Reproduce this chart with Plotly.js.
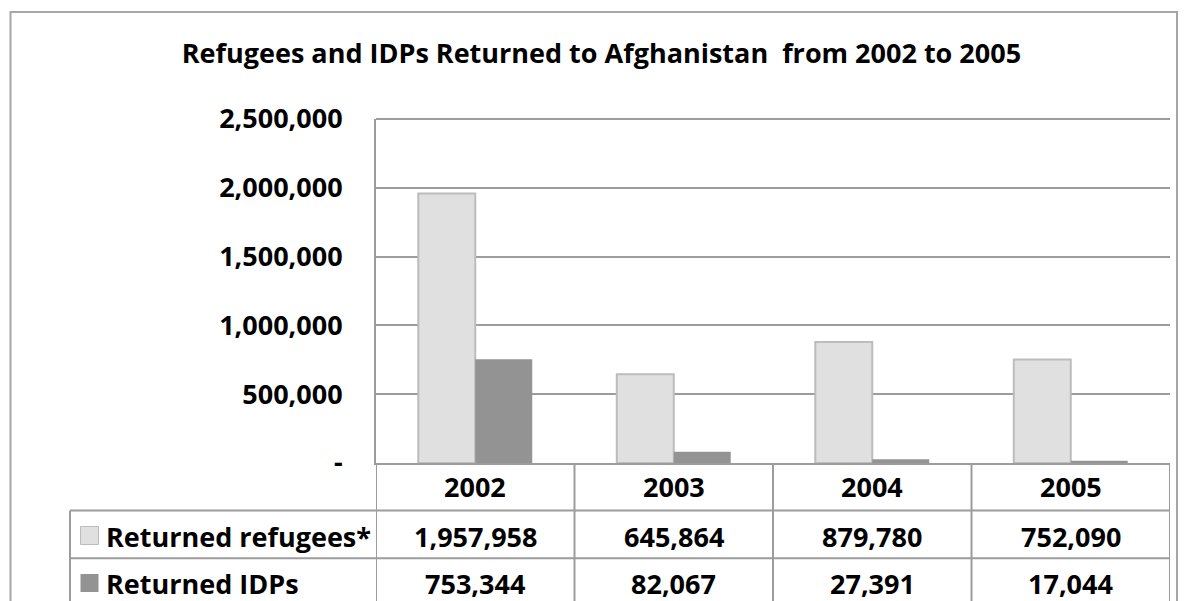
<!DOCTYPE html>
<html>
<head>
<meta charset="utf-8">
<script src="https://cdn.plot.ly/plotly-3.0.1.min.js"></script>
<style>html,body{margin:0;padding:0;background:#fff;}#chart{width:1187px;height:601px;}</style>
</head>
<body>
<div id="chart"></div>
<script>
// ---- data ----
const years = ['2002', '2003', '2004', '2005'];
const refugees = [1957958, 645864, 879780, 752090];
const idps = [753344, 82067, 27391, 17044];
const seriesNames = ['Returned refugees*', 'Returned IDPs'];
const yTickVals = [0, 500000, 1000000, 1500000, 2000000, 2500000];
const yTickText = ['-', '500,000', '1,000,000', '1,500,000', '2,000,000', '2,500,000'];
const chartTitle = 'Refugees and IDPs Returned to Afghanistan  from 2002 to 2005';

// ---- style ----
const W = 1187, H = 601;
const M = {l: 376, r: 17, t: 119, b: 138};
const PW = W - M.l - M.r, PH = H - M.t - M.b;
const FONT = '"Open Sans", Lato, sans-serif';
const GRID = '#9c9c9c';
const colors = ['#e0e0e0', '#939393'];
const lineColors = ['#bcbcbc', '#939393'];
const fsz = 27;
const yMax = yTickVals[yTickVals.length - 1];

// pixel -> paper helpers (layout decoration only)
const px = p => (p - M.l) / PW;
const py = p => (H - M.b - p) / PH;

const traces = [refugees, idps].map((vals, i) => ({
  type: 'bar',
  name: seriesNames[i],
  x: years,
  y: vals,
  marker: {color: colors[i], line: {color: lineColors[i], width: i === 0 ? 2 : 0}},
  hoverinfo: 'x+y+name'
}));

const shapes = [];
const annotations = [];
const rowTop = [463, 510.5, 558.3];
const rowMid = [487, 536, 583.5];
const bottom = H + 10;

// outer chart border
shapes.push({type: 'rect', xref: 'paper', yref: 'paper', x0: px(10.5), x1: px(1177), y0: py(bottom), y1: py(12),
  line: {color: '#a6a6a6', width: 2}, fillcolor: 'rgba(0,0,0,0)', layer: 'below'});

// top gridline (at the axis maximum = top of plot area)
shapes.push({type: 'line', xref: 'paper', yref: 'paper', x0: 0, x1: 1, y0: 1, y1: 1, line: {color: GRID, width: 2}, layer: 'below'});

// table horizontal lines
shapes.push({type: 'line', xref: 'paper', yref: 'paper', x0: px(70), x1: 1, y0: py(rowTop[1]), y1: py(rowTop[1]), line: {color: GRID, width: 2}});
shapes.push({type: 'line', xref: 'paper', yref: 'paper', x0: px(70), x1: 1, y0: py(rowTop[2]), y1: py(rowTop[2]), line: {color: GRID, width: 2}});
// legend column left line
shapes.push({type: 'line', xref: 'paper', yref: 'paper', x0: px(70), x1: px(70), y0: py(rowTop[1]), y1: py(bottom), line: {color: GRID, width: 2}});
// table vertical lines at category boundaries
for (let i = 0; i <= years.length; i++) {
  shapes.push({type: 'line', xref: 'x', yref: 'paper', x0: i - 0.5, x1: i - 0.5, y0: 0, y1: py(bottom), line: {color: GRID, width: 2}});
}

// header row: years
years.forEach((yr, i) => {
  annotations.push({xref: 'x', yref: 'paper', x: i, y: py(rowMid[0]), text: yr, showarrow: false,
    xanchor: 'center', yanchor: 'middle', font: {family: FONT, size: fsz, color: '#000', weight: 700}});
});
// data rows
[refugees, idps].forEach((vals, r) => {
  vals.forEach((v, i) => {
    annotations.push({xref: 'x', yref: 'paper', x: i, y: py(rowMid[r + 1]), text: v.toLocaleString('en-US'), showarrow: false,
      xanchor: 'center', yanchor: 'middle', font: {family: FONT, size: fsz, color: '#000', weight: 700}});
  });
  annotations.push({xref: 'paper', yref: 'paper', x: px(104), y: py(rowMid[r + 1]), text: seriesNames[r], showarrow: false,
    xanchor: 'left', yanchor: 'middle', font: {family: FONT, size: fsz, color: '#000', weight: 700}});
  // legend key
  const cy = rowMid[r + 1] - 0.5;
  shapes.push({type: 'rect', xref: 'paper', yref: 'paper', x0: px(80.5), x1: px(98.5), y0: py(cy + 9), y1: py(cy - 9),
    fillcolor: colors[r], line: {color: lineColors[r], width: r === 0 ? 1 : 0}});
});

const layout = {
  width: W, height: H,
  margin: M,
  paper_bgcolor: '#fff', plot_bgcolor: '#fff',
  showlegend: false,
  barmode: 'group', bargap: 0.426, bargroupgap: 0,
  title: {text: chartTitle, font: {family: FONT, size: 27, color: '#000', weight: 700},
    xref: 'container', yref: 'container', x: 0.5067, y: 1 - 54 / H, xanchor: 'center', yanchor: 'middle'},
  xaxis: {type: 'category', range: [-0.5, years.length - 0.5], showticklabels: false, ticks: '',
    showgrid: false, zeroline: false, showline: true, linecolor: GRID, linewidth: 2, fixedrange: true},
  yaxis: {range: [0, yMax], tickvals: yTickVals, ticktext: yTickText, ticks: '',
    tickfont: {family: FONT, size: fsz, color: '#000', weight: 700}, ticklabelstandoff: 26,
    showgrid: true, gridcolor: GRID, gridwidth: 2, zeroline: false,
    showline: true, linecolor: GRID, linewidth: 2, fixedrange: true},
  shapes: shapes,
  annotations: annotations
};

Plotly.newPlot('chart', traces, layout, {displayModeBar: false, staticPlot: true});
</script>
</body>
</html>
